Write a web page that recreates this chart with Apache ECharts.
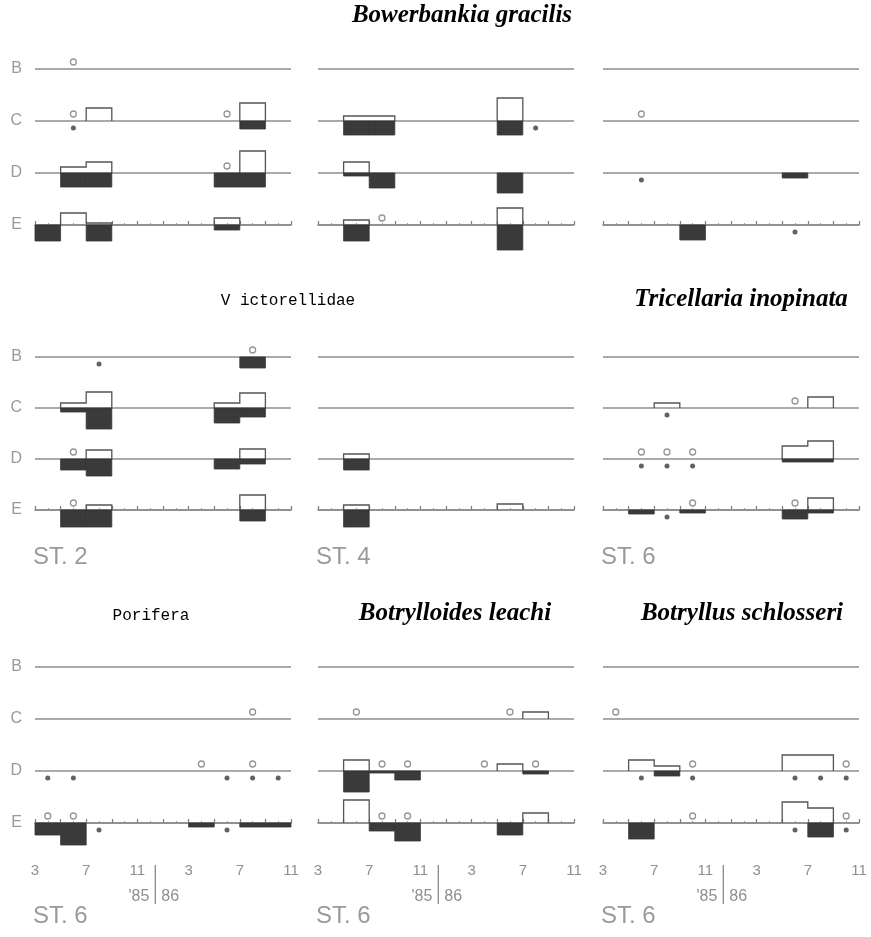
<!DOCTYPE html>
<html><head><meta charset="utf-8">
<script src="https://cdn.jsdelivr.net/npm/echarts@6/dist/echarts.min.js"></script>
<style>html,body{margin:0;padding:0;background:#fff}#c{width:871px;height:937px}</style>
</head><body><div id="c"></div>
<script>
// ---------------- DATA ----------------
// Rows (depth levels) from top to bottom
const rowNames = ['B', 'C', 'D', 'E'];
// x axis: months since March 1985 (0..20), 10 two-month bins
const xTickLabels = ['3', '7', '11', '3', '7', '11']; // at months 0,4,8,12,16,20
const yearLabels = ["'85", '86'];
const yearBreak = 9.4; // position of the '85|86 divider (months)
const bandTitles = [
  ['Bowerbankia gracilis'],
  ['V ictorellidae', 'Tricellaria inopinata'],
  ['Porifera', 'Botrylloides leachi', 'Botryllus schlosseri']
];
const stationLabels = [
  [],
  ['ST. 2', 'ST. 4', 'ST. 6'],
  ['ST. 6', 'ST. 6', 'ST. 6']
];

// Each panel: white bars (above line) and black bars (below line), per row B,C,D,E, per two-month bin
// open = bins with an open circle above the line, dots = bins with a filled dot below the line

// Bowerbankia gracilis, ST. 2
const bower2Up = [
  [0,0,0,0,0,0,0,0,0,0],
  [0,0,13,0,0,0,0,0,18,0],
  [0,6,11,0,0,0,0,0,22,0],
  [0,12,2,0,0,0,0,7,0,0]];
const bower2Down = [
  [0,0,0,0,0,0,0,0,0,0],
  [0,0,0,0,0,0,0,0,8,0],
  [0,14,14,0,0,0,0,14,14,0],
  [16,0,16,0,0,0,0,5,0,0]];
const bower2Open = [[1], [1, 7], [7], []];
const bower2Dots = [[], [1], [], []];

// Bowerbankia gracilis, ST. 4
const bower4Up = [
  [0,0,0,0,0,0,0,0,0,0],
  [0,5,5,0,0,0,0,23,0,0],
  [0,11,0,0,0,0,0,0,0,0],
  [0,5,0,0,0,0,0,17,0,0]];
const bower4Down = [
  [0,0,0,0,0,0,0,0,0,0],
  [0,14,14,0,0,0,0,14,0,0],
  [0,3,15,0,0,0,0,20,0,0],
  [0,16,0,0,0,0,0,25,0,0]];
const bower4Open = [[], [], [], [2]];
const bower4Dots = [[], [8], [], []];

// Bowerbankia gracilis, ST. 6
const bower6Up = [
  [0,0,0,0,0,0,0,0,0,0],
  [0,0,0,0,0,0,0,0,0,0],
  [0,0,0,0,0,0,0,0,0,0],
  [0,0,0,0,0,0,0,0,0,0]];
const bower6Down = [
  [0,0,0,0,0,0,0,0,0,0],
  [0,0,0,0,0,0,0,0,0,0],
  [0,0,0,0,0,0,0,5,0,0],
  [0,0,0,15,0,0,0,0,0,0]];
const bower6Open = [[], [1], [], []];
const bower6Dots = [[], [], [1], [7]];

// Victorellidae, ST. 2
const victo2Up = [
  [0,0,0,0,0,0,0,0,0,0],
  [0,5,16,0,0,0,0,5,15,0],
  [0,0,9,0,0,0,0,0,10,0],
  [0,0,5,0,0,0,0,0,15,0]];
const victo2Down = [
  [0,0,0,0,0,0,0,0,11,0],
  [0,4,21,0,0,0,0,15,9,0],
  [0,11,17,0,0,0,0,10,5,0],
  [0,17,17,0,0,0,0,0,11,0]];
const victo2Open = [[8], [], [1], [1]];
const victo2Dots = [[2], [], [], []];

// Victorellidae, ST. 4
const victo4Up = [
  [0,0,0,0,0,0,0,0,0,0],
  [0,0,0,0,0,0,0,0,0,0],
  [0,5,0,0,0,0,0,0,0,0],
  [0,5,0,0,0,0,0,6,0,0]];
const victo4Down = [
  [0,0,0,0,0,0,0,0,0,0],
  [0,0,0,0,0,0,0,0,0,0],
  [0,11,0,0,0,0,0,0,0,0],
  [0,17,0,0,0,0,0,0,0,0]];
const victo4Open = [[], [], [], []];
const victo4Dots = [[], [], [], []];

// Tricellaria inopinata, ST. 6
const trice6Up = [
  [0,0,0,0,0,0,0,0,0,0],
  [0,0,5,0,0,0,0,0,11,0],
  [0,0,0,0,0,0,0,13,18,0],
  [0,0,0,0,0,0,0,0,12,0]];
const trice6Down = [
  [0,0,0,0,0,0,0,0,0,0],
  [0,0,0,0,0,0,0,0,0,0],
  [0,0,0,0,0,0,0,3,3,0],
  [0,4,0,3,0,0,0,9,3,0]];
const trice6Open = [[], [7], [1, 2, 3], [3, 7]];
const trice6Dots = [[], [2], [1, 2, 3], [2]];

// Porifera, ST. 6
const porif6Up = [
  [0,0,0,0,0,0,0,0,0,0],
  [0,0,0,0,0,0,0,0,0,0],
  [0,0,0,0,0,0,0,0,0,0],
  [0,0,0,0,0,0,0,0,0,0]];
const porif6Down = [
  [0,0,0,0,0,0,0,0,0,0],
  [0,0,0,0,0,0,0,0,0,0],
  [0,0,0,0,0,0,0,0,0,0],
  [12,22,0,0,0,0,4,0,4,4]];
const porif6Open = [[], [8], [6, 8], [0, 1]];
const porif6Dots = [[], [], [0, 1, 7, 8, 9], [2, 7]];

// Botrylloides leachi, ST. 6
const botrd6Up = [
  [0,0,0,0,0,0,0,0,0,0],
  [0,0,0,0,0,0,0,0,7,0],
  [0,11,0,0,0,0,0,7,0,0],
  [0,23,0,0,0,0,0,0,10,0]];
const botrd6Down = [
  [0,0,0,0,0,0,0,0,0,0],
  [0,0,0,0,0,0,0,0,0,0],
  [0,21,2,9,0,0,0,0,3,0],
  [0,0,8,18,0,0,0,12,0,0]];
const botrd6Open = [[], [1, 7], [2, 3, 6, 8], [2, 3]];
const botrd6Dots = [[], [], [], []];

// Botryllus schlosseri, ST. 6
const botry6Up = [
  [0,0,0,0,0,0,0,0,0,0],
  [0,0,0,0,0,0,0,0,0,0],
  [0,11,5,0,0,0,0,16,16,0],
  [0,0,0,0,0,0,0,21,15,0]];
const botry6Down = [
  [0,0,0,0,0,0,0,0,0,0],
  [0,0,0,0,0,0,0,0,0,0],
  [0,0,5,0,0,0,0,0,0,0],
  [0,16,0,0,0,0,0,0,14,0]];
const botry6Open = [[], [0], [3, 9], [3, 9]];
const botry6Dots = [[], [], [1, 3, 7, 8, 9], [7, 9]];

const panels = [
  [bower2Up, bower2Down, bower2Open, bower2Dots],
  [bower4Up, bower4Down, bower4Open, bower4Dots],
  [bower6Up, bower6Down, bower6Open, bower6Dots],
  [victo2Up, victo2Down, victo2Open, victo2Dots],
  [victo4Up, victo4Down, victo4Open, victo4Dots],
  [trice6Up, trice6Down, trice6Open, trice6Dots],
  [porif6Up, porif6Down, porif6Open, porif6Dots],
  [botrd6Up, botrd6Down, botrd6Open, botrd6Dots],
  [botry6Up, botry6Down, botry6Open, botry6Dots]
];

// ---------------- LAYOUT ----------------
const colLeft = [35, 318, 603];
const gridW = 256;
const bandE = [225, 510, 823];     // pixel y of row E line per band
const bandGap = [52, 51, 52];      // row spacing (px = units)
const Y_MIN = -31;
const ITAL = 'bold italic 25px "Liberation Serif"';
const MONO = '16px "Liberation Mono"';
const titlePos = [
  [[462, 16]],
  [[288, 301], [741, 300]],
  [[151, 616], [455, 614], [742, 614]]
];
const titleFont = [
  [ITAL],
  [MONO, ITAL],
  [MONO, ITAL, ITAL]
];

const LINE_GRAY = '#8e8e8e';
const DARK = '#3a3a3a';
const TXT_GRAY = '#8f8f8f';

const grids = [], xAxes = [], yAxes = [], series = [];
panels.forEach(function (p, i) {
  const band = Math.floor(i / 3), col = i % 3;
  const gap = bandGap[band];
  const yMax = 3 * gap + 16;
  grids.push({left: colLeft[col], top: bandE[band] - yMax, width: gridW, height: yMax - Y_MIN});
  xAxes.push({
    gridIndex: i, type: 'value', min: 0, max: 20, interval: 2,
    axisLine: {show: true, lineStyle: {color: '#7a7a7a', width: 1.5}},
    axisTick: {show: true, inside: true, length: 4, lineStyle: {color: '#7a7a7a', width: 1.2}},
    minorTick: {show: true, splitNumber: 2, length: 2, lineStyle: {color: '#999'}},
    splitLine: {show: false},
    axisLabel: {
      show: band === 2, interval: 0, margin: 9, color: TXT_GRAY,
      fontFamily: 'Liberation Sans', fontSize: 15,
      formatter: function (v) { return v % 4 === 0 ? xTickLabels[v / 4] : ''; }
    }
  });
  yAxes.push({
    gridIndex: i, type: 'value', min: Y_MIN, max: yMax,
    axisLine: {show: false}, axisTick: {show: false}, splitLine: {show: false},
    axisLabel: {
      show: col === 0, margin: 13, color: '#9a9a9a', fontFamily: 'Liberation Sans', fontSize: 16,
      customValues: [3 * gap, 2 * gap, gap, 0],
      formatter: function (v) { return rowNames[3 - Math.round(v / gap)]; }
    }
  });
  const up = p[0], down = p[1], open = p[2], dots = p[3];
  const bars = [], outlines = [];
  rowNames.forEach(function (rn, r) {
    const base = (3 - r) * gap;
    // row line
    series.push({type: 'line', xAxisIndex: i, yAxisIndex: i, data: [[0, base], [20, base]],
      symbol: 'none', silent: true, z: 1, lineStyle: {color: LINE_GRAY, width: 1.5}});
    if (up[r].some(function (v) { return v > 0; })) outlines.push([base].concat(up[r]));
    down[r].forEach(function (v, k) { if (v > 0) bars.push([2 * k, 2 * k + 2, base, v]); });
    series.push({type: 'scatter', xAxisIndex: i, yAxisIndex: i, z: 4, silent: true,
      data: open[r].map(function (k) { return [2 * k + 1, base + 7]; }),
      symbol: 'circle', symbolSize: 6,
      itemStyle: {color: '#fff', borderColor: '#7a7a7a', borderWidth: 1.3}});
    series.push({type: 'scatter', xAxisIndex: i, yAxisIndex: i, z: 4, silent: true,
      data: dots[r].map(function (k) { return [2 * k + 1, base - 7]; }),
      symbol: 'circle', symbolSize: 5, itemStyle: {color: DARK}});
  });
  // white bars: histogram outlines, one polyline per run of non-zero bins
  series.push({
    type: 'custom', xAxisIndex: i, yAxisIndex: i, z: 2, silent: true,
    data: outlines, encode: {y: [0]},
    renderItem: function (params, api) {
      const base = api.value(0);
      const children = [];
      let pts = null;
      for (let k = 0; k < 10; k++) {
        const v = api.value(k + 1);
        if (v > 0) {
          if (!pts) pts = [api.coord([2 * k, base])];
          pts.push(api.coord([2 * k, base + v]));
          pts.push(api.coord([2 * k + 2, base + v]));
        } else if (pts) {
          pts.push(api.coord([2 * k, base]));
          children.push(pts); pts = null;
        }
      }
      if (pts) { pts.push(api.coord([20, base])); children.push(pts); }
      return {type: 'group', children: children.map(function (ps) {
        return {type: 'polyline', shape: {points: ps}, style: {stroke: '#555', lineWidth: 1.3, fill: null}};
      })};
    }
  });
  // black bars
  series.push({
    type: 'custom', xAxisIndex: i, yAxisIndex: i, z: 3, silent: true,
    data: bars, encode: {x: [0, 1], y: [2]},
    renderItem: function (params, api) {
      const a = api.coord([api.value(0), api.value(2)]);
      const b = api.coord([api.value(1), api.value(2) - api.value(3)]);
      return {type: 'rect', shape: {x: a[0], y: a[1], width: b[0] - a[0], height: b[1] - a[1]},
        style: {fill: DARK, stroke: '#333', lineWidth: 0.8}};
    }
  });
});

const chart = echarts.init(document.getElementById('c'));
chart.setOption({
  animation: false,
  backgroundColor: '#fff',
  grid: grids, xAxis: xAxes, yAxis: yAxes, series: series
});

// texts
const graphics = [];
bandTitles.forEach(function (list, b) {
  list.forEach(function (t, j) {
    graphics.push({type: 'text', x: titlePos[b][j][0], y: titlePos[b][j][1],
      style: {text: t, font: titleFont[b][j], fill: '#000', textAlign: 'center', textVerticalAlign: 'middle'}});
  });
});
stationLabels.forEach(function (list, b) {
  list.forEach(function (t, c) {
    const gi = b * 3 + c;
    const pt = chart.convertToPixel({gridIndex: gi}, [0, Y_MIN]);
    const dy = b === 2 ? 62 : 16;
    graphics.push({type: 'text', x: pt[0] - 2, y: pt[1] + dy,
      style: {text: t, font: '24px "Liberation Sans"', fill: '#9a9a9a', textAlign: 'left', textVerticalAlign: 'middle'}});
  });
});
[6, 7, 8].forEach(function (gi) {
  const pt = chart.convertToPixel({gridIndex: gi}, [yearBreak, Y_MIN]);
  graphics.push({type: 'line', shape: {x1: pt[0], y1: pt[1] + 11, x2: pt[0], y2: pt[1] + 50},
    style: {stroke: '#8a8a8a', lineWidth: 1.3}});
  graphics.push({type: 'text', x: pt[0] - 6, y: pt[1] + 43,
    style: {text: yearLabels[0], font: '16px "Liberation Sans"', fill: TXT_GRAY, textAlign: 'right', textVerticalAlign: 'middle'}});
  graphics.push({type: 'text', x: pt[0] + 6, y: pt[1] + 43,
    style: {text: yearLabels[1], font: '16px "Liberation Sans"', fill: TXT_GRAY, textAlign: 'left', textVerticalAlign: 'middle'}});
});
chart.setOption({graphic: graphics});
</script>
</body></html>
